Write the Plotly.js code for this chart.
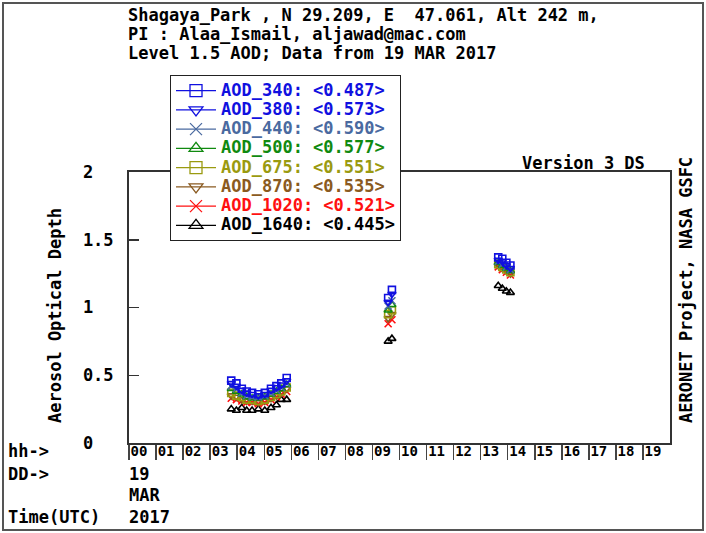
<!DOCTYPE html>
<html>
<head>
<meta charset="utf-8">
<script src="https://cdn.plot.ly/plotly-3.0.1.min.js"></script>
<style>
  html, body { margin: 0; padding: 0; background: #fff; }
  #plot { width: 706px; height: 533px; position: absolute; left: 0; top: 0; }
  #frame { position: absolute; left: 2px; top: 2px; width: 702px; height: 529px; border: 2px solid #555; box-sizing: border-box; pointer-events: none; }
</style>
</head>
<body>
<div id="plot"></div>
<div id="frame"></div>
<script>
// ---------- DATA ----------
const headerLines = [
  "Shagaya_Park , N 29.209, E  47.061, Alt 242 m,",
  "PI : Alaa_Ismail, aljawad@mac.com",
  "Level 1.5 AOD; Data from 19 MAR 2017"
];
const hourTicks = [0,1,2,3,4,5,6,7,8,9,10,11,12,13,14,15,16,17,18,19];
const hourLabels = ["00","01","02","03","04","05","06","07","08","09","10","11","12","13","14","15","16","17","18","19"];
const yTickVals = [0, 0.5, 1, 1.5, 2];
const yTickLabels = ["0", "0.5", "1", "1.5", "2"];

// times in hours UTC on 19 MAR 2017
const times = [3.78, 3.97, 4.17, 4.35, 4.55, 4.78, 5.02, 5.25, 5.45, 5.63, 5.83,
               9.58, 9.72,
               13.65, 13.80, 13.95, 14.10];

const aod340  = [0.46, 0.44, 0.40, 0.38, 0.37, 0.36, 0.37, 0.40, 0.42, 0.44, 0.48, 1.07, 1.13, 1.37, 1.36, 1.33, 1.31];
const aod380  = [0.44, 0.42, 0.39, 0.37, 0.36, 0.35, 0.36, 0.39, 0.41, 0.43, 0.46, 1.04, 1.10, 1.35, 1.34, 1.31, 1.29];
const aod440  = [0.42, 0.40, 0.37, 0.35, 0.34, 0.34, 0.35, 0.37, 0.39, 0.41, 0.44, 1.01, 1.05, 1.34, 1.32, 1.30, 1.28];
const aod500  = [0.40, 0.38, 0.36, 0.34, 0.33, 0.33, 0.34, 0.36, 0.38, 0.40, 0.43, 0.98, 1.02, 1.33, 1.31, 1.29, 1.27];
const aod675  = [0.37, 0.35, 0.34, 0.32, 0.32, 0.31, 0.32, 0.34, 0.36, 0.38, 0.41, 0.95, 0.98, 1.32, 1.30, 1.28, 1.26];
const aod870  = [0.35, 0.34, 0.32, 0.31, 0.31, 0.30, 0.31, 0.33, 0.35, 0.37, 0.40, 0.92, 0.95, 1.31, 1.29, 1.27, 1.25];
const aod1020 = [0.33, 0.32, 0.31, 0.30, 0.30, 0.29, 0.30, 0.32, 0.34, 0.36, 0.38, 0.88, 0.91, 1.30, 1.28, 1.26, 1.24];
const aod1640 = [0.25, 0.24, 0.26, 0.24, 0.24, 0.25, 0.24, 0.26, 0.28, 0.32, 0.32, 0.75, 0.77, 1.16, 1.14, 1.12, 1.11];

const seriesNames = ["AOD_340", "AOD_380", "AOD_440", "AOD_500", "AOD_675", "AOD_870", "AOD_1020", "AOD_1640"];
const seriesMeans = ["0.487", "0.573", "0.590", "0.577", "0.551", "0.535", "0.521", "0.445"];
const seriesValues = [aod340, aod380, aod440, aod500, aod675, aod870, aod1020, aod1640];

// ---------- STYLE ----------
const seriesColors = ["#1010e0", "#1010e0", "#4a6aa0", "#108a10", "#9a9a10", "#8a5a20", "#ff1010", "#000000"];
const seriesSymbols = ["square-open", "triangle-down-open", "x-thin-open", "triangle-up-open",
                       "square-open", "triangle-down-open", "x-thin-open", "triangle-up-open"];
const MONO = "DejaVu Sans Mono";

// figure geometry helpers (pixel -> paper)
const L = 129, R = 670, T = 172, B = 443;
const px = X => (X - L) / (R - L);
const py = Y => (B - Y) / (B - T);

const traces = [];
// data traces (drawn in reverse so short wavelengths end on top)
for (let i = seriesNames.length - 1; i >= 0; i--) {
  traces.push({
    type: "scatter", mode: "markers",
    x: times, y: seriesValues[i],
    showlegend: false,
    marker: { symbol: seriesSymbols[i], size: 7, color: seriesColors[i], line: { width: 1.6, color: seriesColors[i] } },
    hoverinfo: "skip"
  });
}
// legend entries
for (let i = 0; i < seriesNames.length; i++) {
  traces.push({
    type: "scatter", mode: "lines+markers",
    x: [null], y: [null],
    name: '<span style="color:' + seriesColors[i] + ';font-size:17px;font-weight:bold">' +
          seriesNames[i] + ': &lt;' + seriesMeans[i] + '&gt;</span>',
    marker: { symbol: seriesSymbols[i], size: 12, color: seriesColors[i], line: { width: 1.3, color: seriesColors[i] } },
    line: { color: seriesColors[i], width: 1.3 }
  });
}

const annFont = { family: MONO, size: 17, weight: "bold", color: "#000" };
const annotations = [];
headerLines.forEach((t, i) => {
  annotations.push({ xref: "paper", yref: "paper", x: px(126), y: py(15 + 19 * i), xanchor: "left", yanchor: "middle",
                     text: t, showarrow: false, font: annFont });
});
annotations.push({ xref: "paper", yref: "paper", x: px(647), y: py(163), xanchor: "right", yanchor: "middle",
                   text: "Version 3 DS", showarrow: false, font: annFont });
annotations.push({ xref: "paper", yref: "paper", x: px(55), y: py(316), xanchor: "center", yanchor: "middle",
                   text: "Aerosol Optical Depth", textangle: -90, showarrow: false, font: annFont });
annotations.push({ xref: "paper", yref: "paper", x: px(686), y: py(290), xanchor: "center", yanchor: "middle",
                   text: "AERONET Project, NASA GSFC", textangle: -90, showarrow: false, font: annFont });
const sideLabels = [["hh->", 451], ["DD->", 474], ["Time(UTC)", 517]];
sideLabels.forEach(s => {
  annotations.push({ xref: "paper", yref: "paper", x: px(6), y: py(s[1]), xanchor: "left", yanchor: "middle",
                     text: s[0], showarrow: false, font: annFont });
});
const dateLabels = [["19", 474], ["MAR", 495], ["2017", 517]];
dateLabels.forEach(s => {
  annotations.push({ xref: "paper", yref: "paper", x: px(127), y: py(s[1]), xanchor: "left", yanchor: "middle",
                     text: s[0], showarrow: false, font: annFont });
});

// pad y labels so they read left-aligned like the original
const padLen = Math.max(...yTickLabels.map(s => s.length));
const yTickText = yTickLabels.map(s => s + "\u00a0".repeat(padLen - s.length));

const layout = {
  width: 706, height: 533,
  margin: { l: 129, r: 36, t: 172, b: 90, pad: 0 },
  paper_bgcolor: "#fff", plot_bgcolor: "#fff",
  showlegend: true,
  legend: {
    x: px(170), y: py(75), xanchor: "left", yanchor: "top",
    bgcolor: "#fff", bordercolor: "#222", borderwidth: 1,
    font: { family: MONO, size: 12.5, color: "#000" },
    itemwidth: 40, tracegroupgap: 0
  },
  xaxis: {
    range: [0, 20], tickmode: "array", tickvals: hourTicks, ticktext: hourLabels,
    ticks: "outside", ticklen: 15, tickwidth: 1.5, tickcolor: "#444",
    ticklabelstandoff: -21, ticklabelshift: 10,
    tickfont: { family: MONO, size: 14, weight: "bold", color: "#000" },
    showgrid: false, zeroline: false,
    showline: true, linecolor: "#333", linewidth: 2, mirror: true
  },
  yaxis: {
    range: [0, 2], tickmode: "array", tickvals: yTickVals, ticktext: yTickText,
    ticks: "inside", ticklen: 10, tickwidth: 1.5, tickcolor: "#333",
    ticklabelstandoff: 10,
    tickfont: { family: MONO, size: 17, weight: "bold", color: "#000" },
    showgrid: false, zeroline: false,
    showline: true, linecolor: "#333", linewidth: 2, mirror: true
  },
  annotations: annotations
};

Plotly.newPlot("plot", traces, layout, { displayModeBar: false, staticPlot: true });
</script>
</body>
</html>
